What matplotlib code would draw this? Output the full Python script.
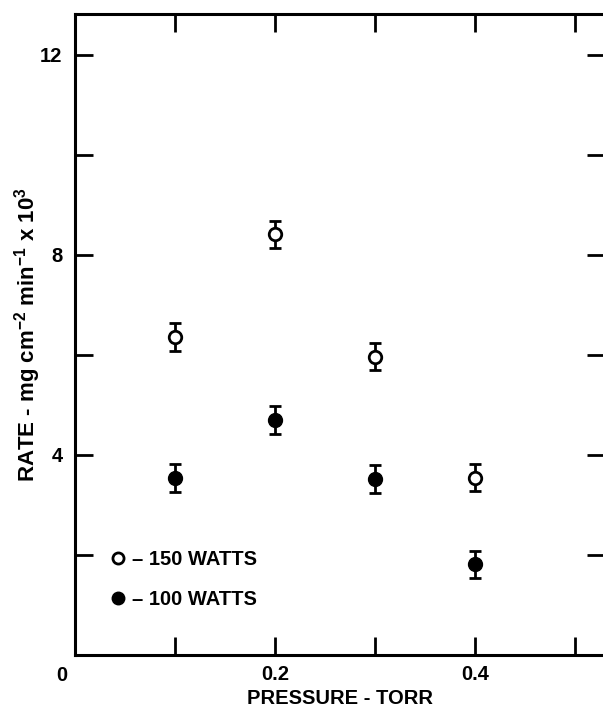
import matplotlib
matplotlib.use("Agg")
import matplotlib.pyplot as plt
from matplotlib.lines import Line2D
import matplotlib.transforms as mtransforms

# data
pressure = [0.1, 0.2, 0.3, 0.4]
rate_150 = [6.36, 8.42, 5.97, 3.55]
err_150 = [0.27, 0.27, 0.27, 0.27]
rate_100 = [3.54, 4.70, 3.52, 1.82]
err_100 = [0.28, 0.28, 0.28, 0.27]

x_ticks = [0.1, 0.2, 0.3, 0.4, 0.5]
x_ticklabels = ["", "0.2", "", "0.4", ""]
y_ticks = [2, 4, 6, 8, 10, 12]
y_ticklabels = ["", "4", "", "8", "", "12"]

plt.rcParams["font.family"] = ["Liberation Sans", "DejaVu Sans"]
plt.rcParams["font.weight"] = "bold"
plt.rcParams["mathtext.default"] = "regular"

fs = 14.5

fig = plt.figure(figsize=(6.03, 7.10), dpi=100)
ax = fig.add_axes([75 / 603, 55 / 710, 530 / 603, 641 / 710])

ax.errorbar(pressure, rate_150, yerr=err_150, fmt="o", mfc="white", mec="black",
            mew=2, ms=9, ecolor="black", elinewidth=2, capsize=4, capthick=2, zorder=3)
ax.errorbar(pressure, rate_100, yerr=err_100, fmt="o", mfc="black", mec="black",
            ms=10, ecolor="black", elinewidth=2, capsize=4, capthick=2, zorder=3)

ax.set_xlim(0, 0.53)
ax.set_ylim(0, 12.82)

ax.set_xticks(x_ticks)
ax.set_xticklabels(x_ticklabels)
ax.set_yticks(y_ticks)
ax.set_yticklabels(y_ticklabels)
ax.tick_params(axis="both", direction="in", length=13, width=2,
               top=True, right=True, labelsize=fs)
ax.tick_params(axis="x", pad=7)
ax.tick_params(axis="y", pad=9)
for s in ax.spines.values():
    s.set_linewidth(2.2)

# origin label sits just left of the corner
off = mtransforms.ScaledTranslation(-13 / 100, -11 / 100, fig.dpi_scale_trans)
ax.text(0, 0, "0", transform=ax.transData + off,
        ha="center", va="top", fontsize=fs, fontweight="bold")

ax.set_xlabel("PRESSURE - TORR", fontsize=fs, fontweight="bold", labelpad=4)
ax.set_ylabel("RATE - mg cm$^{-2}$ min$^{-1}$ x 10$^{3}$", fontsize=16,
              fontweight="bold", labelpad=-2)

handles = [Line2D([], [], ls="none", marker="o", mfc="white", mec="black", mew=2, ms=8),
           Line2D([], [], ls="none", marker="o", mfc="black", mec="black", ms=9)]
ax.legend(handles, ["\u2013 150 WATTS", "\u2013 100 WATTS"], loc="lower left",
          bbox_to_anchor=(0.035, 0.043), frameon=False, handlelength=0.6,
          handletextpad=0.4, labelspacing=1.05, prop={"size": fs, "weight": "bold"})

fig.savefig("out.png", dpi=100)
